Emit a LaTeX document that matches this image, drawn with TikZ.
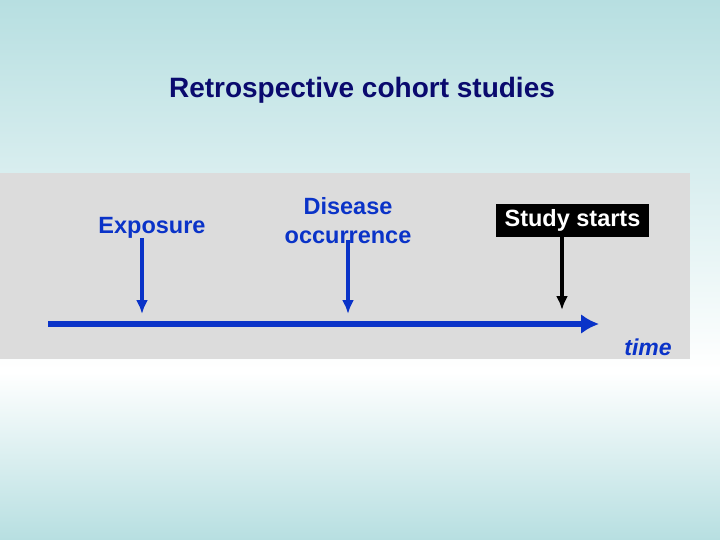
\documentclass[tikz,border=0pt]{standalone}
\usepackage{fontspec}
\setmainfont{Liberation Sans}
\definecolor{tealbg}{HTML}{B7DFE1}
\definecolor{bandgray}{HTML}{DCDCDC}
\definecolor{navytitle}{HTML}{0A0A6E}
\definecolor{eventblue}{HTML}{0A33C8}
\tikzset{
  eventlabel/.style={text=eventblue,font=\bfseries\fontsize{23.5}{29}\selectfont,align=center,inner sep=0pt},
  eventarrow/.style={eventblue,line width=3.5pt,-{Latex[length=14pt,width=12pt]}},
}
\usetikzlibrary{arrows.meta}
\begin{document}
\begin{tikzpicture}[x=1pt,y=-1pt]
      %%%%  Background
      \useasboundingbox (0,0) rectangle (720,540);
      \shade[top color=tealbg,bottom color=white] (0,0) rectangle (720,372);
      \shade[top color=white,bottom color=tealbg] (0,372) rectangle (720,540);
      \fill[bandgray] (0,173) rectangle (690,359);

      %%%%  Title
      \node (title) [text=navytitle,font=\bfseries\fontsize{28}{34}\selectfont] at (362,90) {Retrospective cohort studies};

      %%%%  Events
      \node (exposure) [eventlabel] at (152,228) {Exposure};
      \node (disease) [eventlabel] at (348,221) {Disease\\occurrence};
      \node (study) [fill=black,text=white,font=\bfseries\fontsize{23.5}{26}\selectfont,
        minimum width=153pt,minimum height=33pt,inner sep=0pt] at (572.5,220.5) {\raisebox{-2pt}{Study starts}};

      \coordinate (expend) at (142,314);
      \coordinate (disend) at (348,314);
      \coordinate (stuend) at (562,310);
      \coordinate (expstart) at (142,238);
      \coordinate (disstart) at (348,240);

      \draw[eventarrow] (expstart) -- (expend);
      \draw[eventarrow] (disstart) -- (disend);
      \draw[black,line width=3.5pt,-{Latex[length=14pt,width=12pt]}] (study.south -| stuend) -- (stuend);

      %%%%  Time axis
      \coordinate (axstart) at (48,324);
      \coordinate (axend) at (599,324);
      \draw[eventblue,line width=5.5pt,-{Latex[length=18pt,width=20pt]}] (axstart) -- (axend);
      \node (time) [text=eventblue,font=\bfseries\itshape\fontsize{23}{26}\selectfont,inner sep=0pt] at (648,347) {time};
    \end{tikzpicture}
\end{document}
